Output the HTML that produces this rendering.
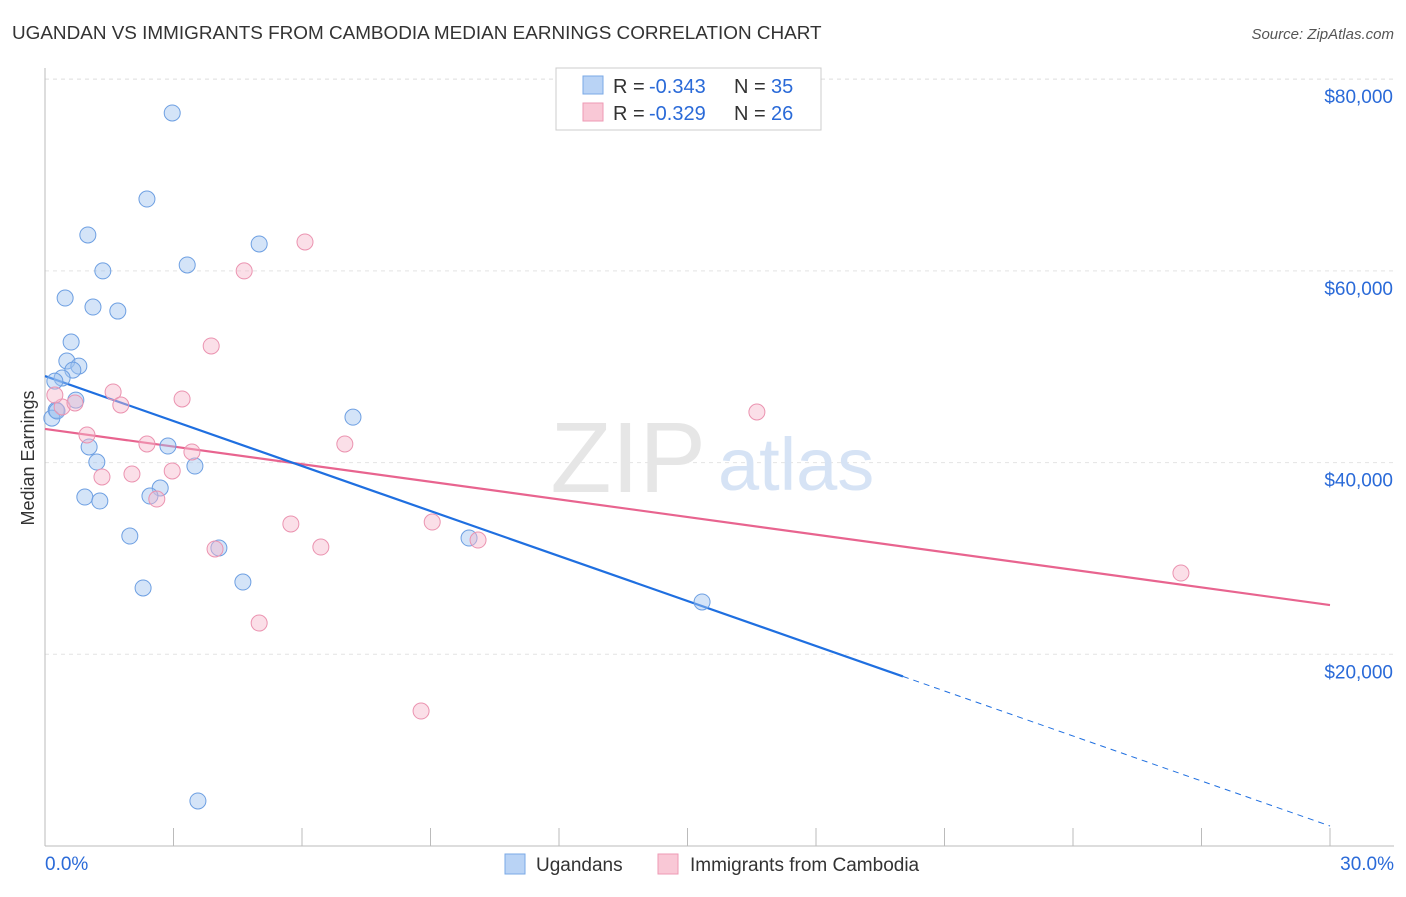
<!DOCTYPE html>
<html><head><meta charset="utf-8">
<style>
body{margin:0;background:#fff;font-family:"Liberation Sans",sans-serif;}
svg text{font-family:"Liberation Sans",sans-serif;}
</style></head>
<body>
<svg id="chart" width="1406" height="892" xmlns="http://www.w3.org/2000/svg">
<text x="12" y="39" font-size="18.9" fill="#333">UGANDAN VS IMMIGRANTS FROM CAMBODIA MEDIAN EARNINGS CORRELATION CHART</text>
<text x="1394" y="39" font-size="15" fill="#555" font-style="italic" text-anchor="end">Source: ZipAtlas.com</text>
<g id="grid"></g>
<text x="706" y="492" font-size="100" fill="#e6e6e6" text-anchor="end" font-family="Liberation Serif">ZIP</text>
<text x="718" y="490" font-size="74" fill="#d6e3f5">atlas</text>
<g id="axes"></g>
<g id="lines"></g>
<g id="points"></g>
<text x="34" y="458" font-size="18" fill="#333" text-anchor="middle" transform="rotate(-90 34 458)">Median Earnings</text>
<g>
<rect x="556" y="68" width="265" height="62" fill="#fff" stroke="#ccc"/>
<rect x="583" y="76" width="20" height="18" fill="#b9d3f5" stroke="#7aa8e6"/>
<text x="613" y="93" font-size="20" fill="#333">R =</text>
<text x="649" y="93" font-size="20" fill="#2a6ad8">-0.343</text>
<text x="734" y="93" font-size="20" fill="#333">N =</text>
<text x="771" y="93" font-size="20" fill="#2a6ad8">35</text>
<rect x="583" y="103" width="20" height="18" fill="#f9c8d6" stroke="#ee9ab4"/>
<text x="613" y="120" font-size="20" fill="#333">R =</text>
<text x="649" y="120" font-size="20" fill="#2a6ad8">-0.329</text>
<text x="734" y="120" font-size="20" fill="#333">N =</text>
<text x="771" y="120" font-size="20" fill="#2a6ad8">26</text>
</g>
<g>
<rect x="505" y="854" width="20" height="20" fill="#b9d3f5" stroke="#7aa8e6"/>
<text x="536" y="871" font-size="19" fill="#333">Ugandans</text>
<rect x="658" y="854" width="20" height="20" fill="#f9c8d6" stroke="#ee9ab4"/>
<text x="690" y="871" font-size="19" fill="#333">Immigrants from Cambodia</text>
</g>
</svg>
<script>
const blueX=[2.97,2.38,1.00,5.00,3.32,1.35,0.47,1.12,1.70,0.61,0.51,0.79,0.65,0.40,0.23,0.26,0.16,0.72,2.87,1.03,1.21,3.50,2.69,2.45,0.93,1.28,7.19,1.98,4.06,9.90,4.62,2.29,15.34,3.57,0.28];
const blueY=[76475,67500,63750,62810,60620,60000,57170,56230,55810,52580,50600,50070,49650,48820,48500,45470,44640,46520,41730,41630,40060,39640,37350,36510,36410,35990,44740,32340,31090,32130,27540,26920,25460,4700,45380];
const pinkX=[6.07,4.65,3.88,1.59,3.20,1.77,0.40,0.23,0.70,0.98,2.38,7.00,3.43,2.97,2.03,1.33,2.61,16.62,5.74,9.04,6.44,3.97,10.11,5.00,8.78,26.52];
const pinkY=[63020,60000,52170,47370,46640,46010,45800,47050,46220,42880,41940,41940,41110,39130,38810,38500,36200,45280,33600,33800,31190,30990,31920,23260,14080,28480];
const yTicks=[20000,40000,60000,80000];
const yTickLabels=["$20,000","$40,000","$60,000","$80,000"];
const xTicks=[0,3,6,9,12,15,18,21,24,27,30];
const blueLine=[49030,2090]; const blueSolidEnd=20.03;
const pinkLine=[43510,25140];
const NS="http://www.w3.org/2000/svg";
const sx=v=>45+v*(1285/30);
const sy=v=>846-v*(191.7/20000);
function mk(t,a,p){const e=document.createElementNS(NS,t);for(const k in a)e.setAttribute(k,a[k]);p.appendChild(e);return e;}
const grid=document.getElementById('grid'),axes=document.getElementById('axes'),lines=document.getElementById('lines'),pts=document.getElementById('points');
yTicks.forEach((v,i)=>{
 const l=mk('line',{x1:45,x2:1394,y1:sy(v),y2:sy(v),stroke:'#e4e4e4','stroke-dasharray':'4,4'},grid);
 
 
 const t=mk('text',{x:1393,y:sy(v)+24,'font-size':19,fill:'#2a6ad8','text-anchor':'end'},axes);
 t.textContent=yTickLabels[i];
 
 
});
const tl=mk('line',{x1:45,x2:1394,y1:79,y2:79,stroke:'#e4e4e4','stroke-dasharray':'4,4'},grid);


const ya=mk('line',{x1:45,x2:45,y1:68,y2:846,stroke:'#bbb'},axes);


const xa=mk('line',{x1:45,x2:1394,y1:846,y2:846,stroke:'#bbb'},axes);


xTicks.forEach(v=>{const t=mk('line',{x1:sx(v),x2:sx(v),y1:828,y2:846,stroke:'#bbb'},axes);
 
 });
const x0=mk('text',{x:45,y:870,'font-size':19,fill:'#2a6ad8'},axes);x0.textContent='0.0%';


const x1=mk('text',{x:1394,y:870,'font-size':19,fill:'#2a6ad8','text-anchor':'end'},axes);x1.textContent='30.0%';


const bAt=x=>blueLine[0]+(blueLine[1]-blueLine[0])*x/30;
const pAt=x=>pinkLine[0]+(pinkLine[1]-pinkLine[0])*x/30;
const pl=mk('line',{x1:sx(0),y1:sy(pAt(0)),x2:sx(30),y2:sy(pAt(30)),stroke:'#e8648f','stroke-width':2.2},lines);


const bl=mk('line',{x1:sx(0),y1:sy(bAt(0)),x2:sx(blueSolidEnd),y2:sy(bAt(blueSolidEnd)),stroke:'#1f6fe0','stroke-width':2.2},lines);


const bd=mk('line',{x1:sx(blueSolidEnd),y1:sy(bAt(blueSolidEnd)),x2:sx(30),y2:sy(bAt(30)),stroke:'#1f6fe0','stroke-width':1,'stroke-dasharray':'6,5'},lines);


blueX.forEach((x,i)=>{const c=mk('circle',{cx:sx(x),cy:sy(blueY[i]),r:8,fill:'rgba(160,196,240,0.45)',stroke:'#6d9fe2','stroke-width':1},pts);
 
 });
pinkX.forEach((x,i)=>{const c=mk('circle',{cx:sx(x),cy:sy(pinkY[i]),r:8,fill:'rgba(247,184,203,0.45)',stroke:'#eb93b0','stroke-width':1},pts);
 
 });
</script>
</body></html>
